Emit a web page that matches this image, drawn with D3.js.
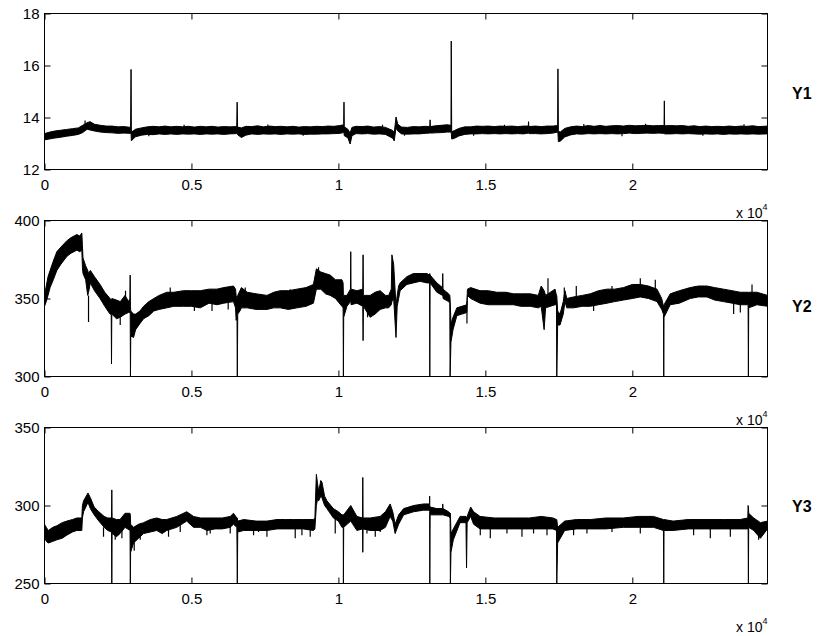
<!DOCTYPE html>
<html>
<head>
<meta charset="utf-8">
<script src="https://cdn.jsdelivr.net/npm/d3@7"></script>
<style>
  body { margin: 0; background: #fff; }
  svg { display: block; }
  text { font-family: "Liberation Sans", Arial, Helvetica, sans-serif; fill: #000; }
</style>
</head>
<body>
<div id="chart"></div>
<script>
// Sample index axis (shown in units of 10^4)
const xMax = 24600;
const xTicks = [0, 5000, 10000, 15000, 20000];
const xTickLabels = ["0", "0.5", "1", "1.5", "2"];

// Signal envelopes: [sample, low, high]
const y1Env = [
  [0,13.14,13.38],[150,13.17,13.43],[350,13.21,13.48],[550,13.24,13.51],[750,13.28,13.54],
  [950,13.31,13.57],[1150,13.35,13.6],[1300,13.42,13.7],[1450,13.55,13.8],[1550,13.52,13.84],
  [1700,13.48,13.74],[1900,13.44,13.7],[2100,13.42,13.67],[2300,13.41,13.67],[2500,13.39,13.64],
  [2700,13.4,13.65],[2930,13.39,13.62],[2945,13.4,15.85],[2955,13.1,13.55],[2975,13.13,13.45],
  [3100,13.26,13.55],[3300,13.32,13.6],[3500,13.35,13.64],[3700,13.34,13.66],[3900,13.37,13.64],
  [4100,13.35,13.67],[4300,13.37,13.64],[4500,13.35,13.66],[4700,13.37,13.64],[4900,13.36,13.66],
  [5100,13.37,13.63],[5300,13.35,13.66],[5500,13.37,13.64],[5700,13.36,13.66],[5900,13.37,13.63],
  [6100,13.35,13.65],[6300,13.37,13.64],[6540,13.38,13.65],[6555,13.38,14.59],[6570,13.34,13.63],
  [6700,13.23,13.6],[6850,13.32,13.66],[7050,13.37,13.65],[7250,13.35,13.68],[7450,13.37,13.64],
  [7650,13.36,13.67],[7850,13.37,13.65],[8050,13.35,13.66],[8250,13.37,13.64],[8450,13.36,13.66],
  [8650,13.37,13.63],[8850,13.35,13.65],[9050,13.36,13.64],[9250,13.36,13.66],[9450,13.37,13.65],
  [9650,13.37,13.67],[9850,13.38,13.66],[10050,13.39,13.69],[10180,13.42,13.72],[10190,13.42,14.59],
  [10200,13.3,13.64],[10320,13.22,13.55],[10400,12.98,13.4],[10460,13.3,13.62],[10600,13.38,13.66],
  [10800,13.37,13.65],[11000,13.38,13.67],[11200,13.36,13.63],[11400,13.37,13.65],[11600,13.35,13.62],
  [11850,13.2,13.5],[11900,13.1,13.4],[11960,13.6,14.02],[12020,13.48,13.74],[12150,13.37,13.63],
  [12350,13.36,13.62],[12550,13.37,13.65],[12750,13.37,13.64],[12950,13.39,13.66],[13110,13.4,13.65],
  [13120,13.42,13.91],[13130,13.4,13.65],[13300,13.41,13.68],[13500,13.42,13.7],[13700,13.44,13.72],
  [13830,13.44,13.7],[13840,13.4,16.94],[13855,13.17,13.45],[13950,13.2,13.5],[14100,13.29,13.58],
  [14300,13.35,13.64],[14500,13.37,13.64],[14700,13.37,13.67],[14900,13.38,13.66],[15100,13.37,13.67],
  [15300,13.38,13.65],[15500,13.37,13.67],[15700,13.38,13.66],[15900,13.37,13.67],[16100,13.38,13.65],
  [16300,13.37,13.67],[16460,13.4,13.67],[16470,13.42,13.84],[16480,13.38,13.65],[16700,13.38,13.67],
  [16900,13.37,13.65],[17100,13.38,13.67],[17300,13.4,13.67],[17460,13.44,13.69],[17470,13.4,15.87],
  [17485,13.07,13.45],[17560,13.1,13.45],[17700,13.25,13.58],[17900,13.33,13.64],[18100,13.37,13.67],
  [18300,13.36,13.65],[18500,13.38,13.69],[18700,13.37,13.66],[18900,13.38,13.69],[19100,13.37,13.66],
  [19300,13.38,13.68],[19500,13.37,13.69],[19700,13.38,13.67],[19900,13.4,13.7],[20100,13.38,13.68],
  [20300,13.39,13.69],[20500,13.4,13.7],[20700,13.39,13.68],[20900,13.4,13.69],[21080,13.39,13.69],
  [21090,13.38,14.64],[21100,13.37,13.68],[21300,13.37,13.69],[21500,13.38,13.68],[21700,13.37,13.69],
  [21900,13.38,13.66],[22100,13.37,13.68],[22300,13.36,13.65],[22500,13.37,13.67],[22700,13.36,13.65],
  [22900,13.37,13.66],[23100,13.35,13.65],[23300,13.37,13.67],[23500,13.36,13.65],[23700,13.37,13.67],
  [23900,13.36,13.66],[24100,13.37,13.68],[24300,13.36,13.65],[24600,13.37,13.67]
];

// single noise strokes poking out of the band: [sample, from, to]
const y1Marks = [
  [1380,13.6,13.88],[3550,13.5,13.28],[4750,13.5,13.72],[7600,13.5,13.73],[8800,13.5,13.3],
  [11500,13.5,13.72],[12250,13.5,13.3],[14600,13.5,13.3],[15650,13.5,13.72],[18350,13.5,13.75],
  [19650,13.5,13.28],[20450,13.5,13.76],[22400,13.5,13.3],[23800,13.5,13.74]
];

const y2Env = [
  [0,345,352],[60,348,358],[120,352,364],[190,357,368],[300,362,374],[420,368,380],[560,372,383],
  [760,377,387],[900,379,389],[1100,381,391],[1200,380,390],[1270,381,392],[1290,370,384],
  [1310,366,376],[1400,362,371],[1470,352,368],[1500,354,366],[1560,360,368],[1700,355,364],
  [1890,350,359],[2050,345,354],[2230,340,350],[2270,340,349],[2280,308,348],[2290,340,350],
  [2450,337,349],[2580,338,348],[2740,340,352],[2860,341,348],[2905,341,350],[2915,341,365],
  [2925,300,345],[2935,326,342],[3030,325,340],[3100,330,340],[3250,334,342],[3370,337,345],
  [3550,339,348],[3720,342,350],[3900,343,352],[4160,344,354],[4400,345,354],[4730,345,355],
  [5000,345,355],[5300,344,355],[5600,347,356],[5870,346,356],[6100,347,357],[6430,348,358],
  [6500,344,356],[6520,336,352],[6550,338,350],[6560,300,350],[6575,340,352],[6650,342,355],
  [6700,344,357],[6900,344,354],[7200,343,353],[7570,343,352],[7800,344,354],[8020,344,355],
  [8300,343,355],[8590,344,356],[8900,345,357],[9150,347,359],[9250,356,369],[9400,356,367],
  [9560,353,366],[9720,352,365],[9900,350,362],[10120,345,362],[10160,344,360],[10170,300,352],
  [10180,338,352],[10290,345,352],[10410,348,356],[10420,350,380],[10430,346,356],[10630,347,355],
  [10830,345,356],[10840,323,378],[10850,345,352],[11080,338,352],[11250,340,354],[11420,343,355],
  [11600,344,352],[11710,344,352],[11800,346,356],[11820,348,378],[11880,350,372],[11960,325,345],
  [12000,345,352],[12050,350,358],[12100,355,360],[12330,359,364],[12550,360,366],[12780,361,366],
  [13010,360,366],[13100,360,365],[13110,300,366],[13120,360,365],[13350,354,360],[13540,352,357],
  [13550,355,366],[13560,350,356],[13750,348,353],[13790,347,352],[13800,300,350],[13830,322,334],
  [13900,330,338],[14030,339,344],[14200,340,345],[14370,341,346],[14390,352,356],[14500,350,357],
  [14820,347,355],[15100,346,355],[15390,346,354],[15700,346,354],[15960,346,353],[16200,345,353],
  [16530,345,353],[16800,344,352],[16900,345,358],[17000,330,355],[17050,344,352],[17370,346,356],
  [17420,346,352],[17430,300,352],[17460,333,342],[17540,333,340],[17650,340,348],[17710,348,355],
  [17770,344,350],[18000,344,351],[18300,345,352],[18570,345,353],[18850,346,355],[19140,347,356],
  [19400,348,356],[19700,349,357],[20000,350,359],[20270,351,359],[20550,350,358],[20840,348,356],
  [21000,343,350],[21060,340,345],[21070,300,345],[21080,338,346],[21290,346,353],[21600,347,355],
  [21970,350,357],[22250,351,358],[22540,351,358],[22800,349,357],[23100,348,356],[23400,347,355],
  [23670,346,354],[23940,346,354],[23950,300,352],[23960,344,354],[24240,346,354],[24600,345,352]
];

const y2Marks = [
  [1498,352,335],[2576,345,333],[2757,348,355],[4278,350,357],[5100,348,342],[5700,350,342],
  [6250,350,343],[6830,350,357],[8361,350,356],[9324,360,370],[10992,345,338],[14374,348,334],
  [17131,350,363],[17686,350,357],[18094,350,358],[18684,348,342],[19308,352,358],[20272,355,363],
  [20782,355,362],[22143,352,358],[23448,348,340],[23675,348,341],[24073,352,359]
];

const y3Env = [
  [0,280,288],[60,277,286],[130,276,284],[280,277,286],[420,278,287],[600,279,289],[760,281,290],
  [950,283,291],[1100,284,292],[1270,284,292],[1290,292,300],[1330,296,303],[1480,302,308],
  [1560,298,305],[1690,294,299],[1850,290,296],[2030,286,293],[2150,284,292],[2280,283,292],
  [2290,250,310],[2300,282,292],[2450,280,291],[2570,282,291],[2740,286,295],[2910,284,295],
  [2920,250,294],[2930,270,288],[3030,276,286],[3200,279,288],[3370,282,289],[3600,283,291],
  [3820,284,292],[4000,282,291],[4160,284,291],[4500,286,293],[4840,290,296],[5070,286,293],
  [5300,286,292],[5530,284,292],[5800,285,292],[6050,285,292],[6320,286,293],[6430,288,295],
  [6545,286,292],[6560,250,292],[6575,283,290],[6780,284,291],[7200,284,290],[7570,284,290],
  [7910,285,291],[8200,285,291],[8470,285,291],[8800,285,291],[9150,284,291],[9200,285,292],
  [9250,300,320],[9290,304,314],[9330,303,309],[9400,306,316],[9440,305,315],[9530,300,306],
  [9610,298,303],[9830,292,298],[10000,290,296],[10120,286,294],[10165,286,294],[10170,250,294],
  [10180,286,294],[10420,290,300],[10630,284,293],[10820,285,292],[10830,270,318],[10840,285,292],
  [11080,284,292],[11420,284,293],[11600,286,296],[11760,293,301],[11850,290,296],[11930,282,288],
  [12050,288,294],[12220,294,298],[12560,296,300],[12900,297,301],[13100,297,301],[13105,296,306],
  [13110,250,300],[13120,294,299],[13350,294,298],[13540,294,298],[13550,294,301],[13560,294,298],
  [13750,293,296],[13800,292,295],[13810,250,295],[13830,270,282],[13910,278,285],[14140,289,293],
  [14340,289,293],[14360,260,292],[14380,289,293],[14500,293,299],[14600,288,296],[14820,285,293],
  [15300,285,292],[15960,285,292],[16500,285,292],[16900,285,293],[17300,285,292],[17420,284,291],
  [17430,250,291],[17460,276,286],[17700,284,290],[18100,285,291],[18570,285,291],[19100,285,292],
  [19700,286,292],[20200,286,293],[20720,286,293],[21060,284,291],[21070,250,291],[21080,284,291],
  [21390,284,290],[21900,285,291],[22540,285,291],[23100,285,291],[23670,285,291],[23930,285,292],
  [23940,286,300],[23950,250,299],[23960,286,295],[24130,284,292],[24360,279,289],[24600,285,290]
];

const y3Marks = [
  [2008,286,280],[2406,285,278],[2634,285,279],[3053,280,271],[3257,283,278],[4220,286,280],
  [4618,288,283],[5526,286,281],[5638,286,282],[6319,287,282],[7113,285,281],[7283,285,283],
  [7568,285,280],[8531,285,279],[8759,285,281],[9041,285,280],[9892,292,282],[10971,286,282],
  [11254,286,280],[11424,286,283],[14827,286,281],[15168,286,279],[15735,286,282],[16246,286,280],
  [16640,286,282],[17097,286,281],[18002,286,281],[18457,286,282],[19308,287,283],[20272,287,282],
  [22086,286,281],[22654,286,279],[23335,286,280],[24298,284,278]
];

const y1Ticks = [12, 14, 16, 18];
const y2Ticks = [300, 350, 400];
const y3Ticks = [250, 300, 350];

const width = 820;
const height = 636;
const left = 44.5, right = 767.5;

const panels = [
  {name: "Y1", env: y1Env, marks: y1Marks, ticks: y1Ticks, domain: [12, 18], top: 13.5, bottom: 169.5, labelY: 93},
  {name: "Y2", env: y2Env, marks: y2Marks, ticks: y2Ticks, domain: [300, 400], top: 220.5, bottom: 376.5, labelY: 306},
  {name: "Y3", env: y3Env, marks: y3Marks, ticks: y3Ticks, domain: [250, 350], top: 427.5, bottom: 583.5, labelY: 506}
];

const svg = d3.select("#chart")
  .append("svg")
  .attr("width", width)
  .attr("height", height);

const x = d3.scaleLinear().domain([0, xMax]).range([left, right]);

panels.forEach((p, i) => {
  const y = d3.scaleLinear().domain(p.domain).range([p.bottom, p.top]);
  const g = svg.append("g");

  g.append("clipPath").attr("id", "clip" + i)
    .append("rect")
    .attr("x", left).attr("y", p.top)
    .attr("width", right - left).attr("height", p.bottom - p.top);

  const plot = g.append("g").attr("clip-path", `url(#clip${i})`);

  // the trace, drawn as its noise band
  const area = d3.area()
    .x(d => x(d[0]))
    .y0(d => y(d[1]))
    .y1(d => y(d[2]));

  plot.append("path")
    .datum(p.env)
    .attr("d", area)
    .attr("fill", "#000")
    .attr("stroke", "#000")
    .attr("stroke-width", 1)
    .attr("stroke-linejoin", "round");

  plot.selectAll("line.mark")
    .data(p.marks)
    .join("line")
    .attr("class", "mark")
    .attr("x1", d => x(d[0])).attr("x2", d => x(d[0]))
    .attr("y1", d => y(d[1])).attr("y2", d => y(d[2]))
    .attr("stroke", "#000")
    .attr("stroke-width", 1.2);

  // axes, ticks pointing inside
  g.append("g")
    .attr("transform", `translate(0,${p.bottom})`)
    .call(d3.axisBottom(x).tickValues(xTicks).tickSize(-6).tickPadding(10)
      .tickFormat((d, k) => xTickLabels[k]))
    .call(a => a.select(".domain").remove())
    .call(a => a.selectAll("text").style("font-size", "15px").attr("fill", "#000"));

  g.append("g")
    .attr("transform", `translate(0,${p.top})`)
    .call(d3.axisTop(x).tickValues(xTicks).tickSize(-6).tickFormat(""))
    .call(a => a.select(".domain").remove());

  g.append("g")
    .attr("transform", `translate(${left},0)`)
    .call(d3.axisLeft(y).tickValues(p.ticks).tickSize(-6).tickPadding(5).tickFormat(d3.format("d")))
    .call(a => a.select(".domain").remove())
    .call(a => a.selectAll("text").style("font-size", "15px").attr("fill", "#000"));

  g.append("g")
    .attr("transform", `translate(${right},0)`)
    .call(d3.axisRight(y).tickValues(p.ticks).tickSize(-6).tickFormat(""))
    .call(a => a.select(".domain").remove());

  g.append("rect")
    .attr("x", left).attr("y", p.top)
    .attr("width", right - left).attr("height", p.bottom - p.top)
    .attr("fill", "none")
    .attr("stroke", "#000");

  // exponent label
  const ex = g.append("text")
    .attr("x", right)
    .attr("y", p.bottom + 48)
    .attr("text-anchor", "end")
    .style("font-size", "14px");
  ex.append("tspan").text("x 10");
  ex.append("tspan").attr("dy", -8).style("font-size", "9px").text("4");

  g.append("text")
    .attr("x", 792)
    .attr("y", p.labelY)
    .attr("dy", "0.36em")
    .style("font-size", "16px")
    .style("font-weight", "bold")
    .text(p.name);
});
</script>
</body>
</html>
